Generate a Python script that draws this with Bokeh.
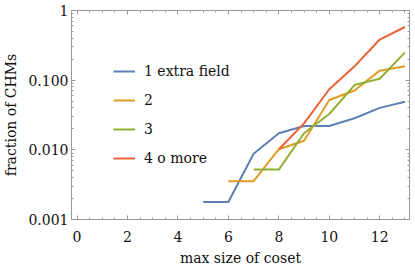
from bokeh.plotting import figure
from bokeh.models import (LinearAxis, LogAxis, FixedTicker, CustomJSTickFormatter,
                          Legend, LegendItem, Range1d)
from bokeh.embed import file_html
from bokeh.resources import INLINE

# data
x_one = [5, 6, 7, 8, 9, 10, 11, 12, 13]
one_extra = [0.00178, 0.00178, 0.0088, 0.0173, 0.022, 0.022, 0.0284, 0.040, 0.049]
x_two = [6, 7, 8, 9, 10, 11, 12, 13]
two = [0.00355, 0.00355, 0.0102, 0.0135, 0.052, 0.071, 0.137, 0.158]
x_three = [7, 8, 9, 10, 11, 12, 13]
three = [0.0052, 0.0052, 0.0173, 0.0327, 0.085, 0.105, 0.251]
x_four = [8, 9, 10, 11, 12, 13]
four = [0.0102, 0.024, 0.074, 0.158, 0.383, 0.58]

series_names = ["1 extra field", "2", "3", "4 o more"]
colors = ["#5E81B5", "#E19C24", "#8FB032", "#EB6235"]

x_major = [0, 2, 4, 6, 8, 10, 12]
x_minor = [i * 0.5 for i in range(-1, 28)]
y_major = [0.001, 0.01, 0.1, 1]
y_minor = [m * 10.0 ** e for e in (-3, -2, -1) for m in range(2, 10)]

FONT = "DejaVu Serif"
FRAME = "#9a9a9a"

p = figure(width=415, height=273, output_backend="svg", toolbar_location=None,
           y_axis_type="log", x_range=Range1d(-0.22, 13.18), y_range=Range1d(0.001, 1),
           min_border_left=70, min_border_right=6, min_border_top=10, min_border_bottom=54)
p.grid.visible = False
p.outline_line_color = FRAME
p.background_fill_color = "white"
p.border_fill_color = "white"

def style_axis(ax, labels=True):
    ax.axis_line_color = FRAME
    ax.major_tick_line_color = FRAME
    ax.minor_tick_line_color = FRAME
    ax.major_tick_in = 4
    ax.major_tick_out = 0
    ax.minor_tick_in = 2
    ax.minor_tick_out = 0
    ax.major_label_text_font = FONT
    ax.major_label_text_font_size = "14px"
    ax.major_label_text_color = "#111111"
    ax.axis_label_text_font = FONT
    ax.axis_label_text_font_size = "14px"
    ax.axis_label_text_font_style = "normal"
    ax.axis_label_text_color = "#111111"
    if not labels:
        ax.formatter = CustomJSTickFormatter(code='return "";')
        ax.major_label_standoff = 0

xa = p.xaxis[0]
style_axis(xa)
xa.ticker = FixedTicker(ticks=x_major, minor_ticks=x_minor)
xa.axis_label = "max size of coset"
xa.major_label_standoff = 11
xa.axis_label_standoff = 5

ya = p.yaxis[0]
style_axis(ya)
ya.ticker = FixedTicker(ticks=y_major, minor_ticks=y_minor)
ya.formatter = CustomJSTickFormatter(code='return tick >= 0.999 ? "1" : tick.toFixed(3);')
ya.axis_label = "fraction of CHMs"
ya.major_label_standoff = 3
ya.axis_label_standoff = 6

top = LinearAxis(ticker=FixedTicker(ticks=x_major, minor_ticks=x_minor))
style_axis(top, labels=False)
p.add_layout(top, "above")
right = LogAxis(ticker=FixedTicker(ticks=y_major, minor_ticks=y_minor))
style_axis(right, labels=False)
p.add_layout(right, "right")

items = []
for xs, ys, name, c in zip([x_one, x_two, x_three, x_four],
                           [one_extra, two, three, four], series_names, colors):
    r = p.line(xs, ys, line_color=c, line_width=2)
    items.append(LegendItem(label=name, renderers=[r]))

leg = Legend(items=items, location=(42, 51), padding=0, margin=0, spacing=9,
             glyph_width=22, glyph_height=20, label_height=20, label_standoff=9,
             border_line_alpha=0, background_fill_alpha=0,
             label_text_font=FONT, label_text_font_size="14px",
             label_text_color="#111111")
p.add_layout(leg, "center")

open("out.html", "w").write(file_html(p, INLINE))
